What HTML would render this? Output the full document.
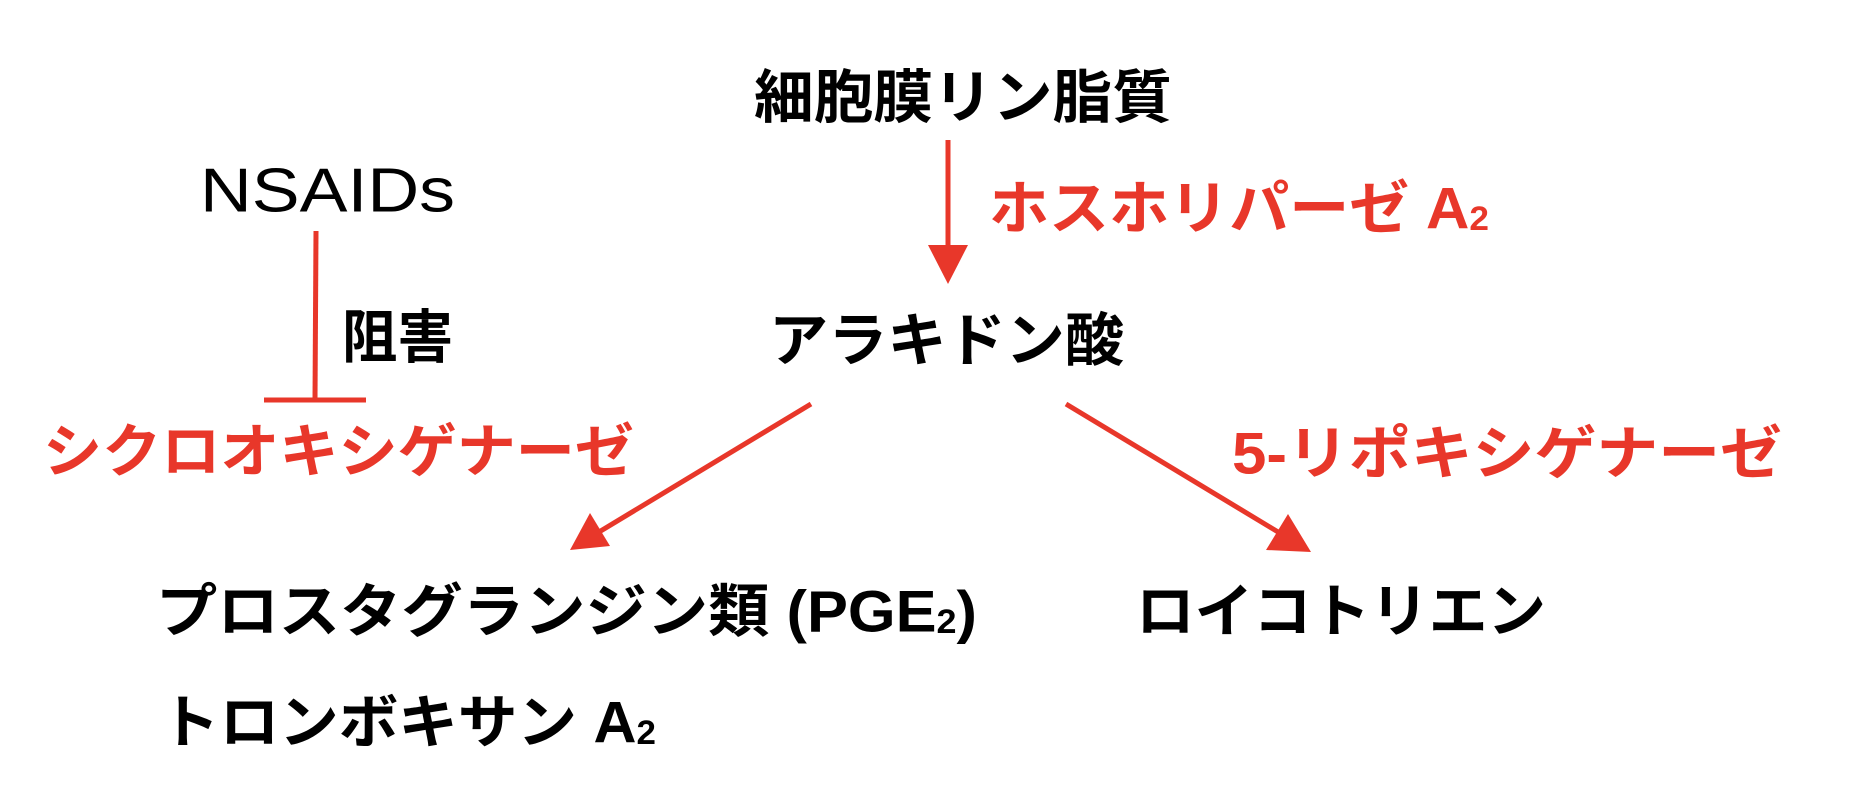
<!DOCTYPE html>
<html><head><meta charset="utf-8"><style>
html,body{margin:0;padding:0;background:#fff;}
svg{display:block;}
text{font-family:"Liberation Sans","Noto Sans CJK JP",sans-serif;font-size:58px;font-weight:bold;dominant-baseline:central;}
.r{fill:#e8372a;}
</style></head><body>
<svg width="1864" height="786" viewBox="0 0 1864 786" xmlns="http://www.w3.org/2000/svg">
<g transform="translate(-5,0)">
<text x="759" y="98" textLength="418" lengthAdjust="spacingAndGlyphs">細胞膜リン脂質</text>
<text x="205" y="191" textLength="255" lengthAdjust="spacingAndGlyphs" style="font-weight:normal;font-size:62px">NSAIDs</text>
<text class="r" x="994" y="209" textLength="500" lengthAdjust="spacingAndGlyphs">ホスホリパーゼ A<tspan font-size="34" dy="10">2</tspan></text>
<text x="774" y="341" textLength="355" lengthAdjust="spacingAndGlyphs">アラキドン酸</text>
<text x="347" y="338" textLength="111" lengthAdjust="spacingAndGlyphs">阻害</text>
<text class="r" x="48" y="452" textLength="591" lengthAdjust="spacingAndGlyphs">シクロオキシゲナーゼ</text>
<text class="r" x="1237" y="454" textLength="550" lengthAdjust="spacingAndGlyphs">5-リポキシゲナーゼ</text>
<text x="161" y="612" textLength="821" lengthAdjust="spacingAndGlyphs">プロスタグランジン類 (PGE<tspan font-size="34" dy="10">2</tspan><tspan dy="-10">)</tspan></text>
<text x="1141" y="612" textLength="410" lengthAdjust="spacingAndGlyphs">ロイコトリエン</text>
<text x="165" y="723" textLength="496" lengthAdjust="spacingAndGlyphs">トロンボキサン A<tspan font-size="34" dy="10">2</tspan></text>
</g>
<g transform="translate(-4,0)">
<g stroke="#e8372a" stroke-width="5" fill="none">
<line x1="952" y1="140" x2="952" y2="250"/>
<line x1="320" y1="231" x2="319" y2="400"/>
<line x1="268" y1="400" x2="370" y2="400"/>
<line x1="815" y1="404" x2="598" y2="535"/>
<line x1="1070" y1="404" x2="1292" y2="538"/>
</g>
<g fill="#e8372a">
<polygon points="932,245 972,245 952,284"/>
<polygon points="574,550 594,513 614,546"/>
<polygon points="1315,552 1270,550 1292,514"/>
</g>
</g>
</svg>
</body></html>
